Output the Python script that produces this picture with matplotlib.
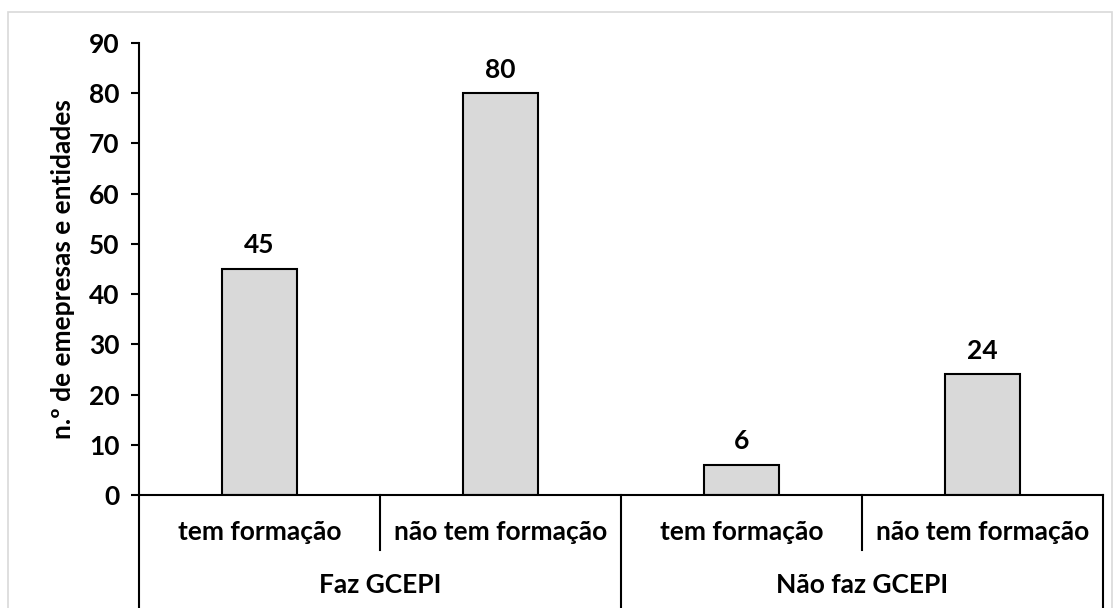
import numpy as np
import matplotlib.pyplot as plt
from matplotlib.patches import Rectangle
from matplotlib.lines import Line2D

# dados do gráfico
subcategorias = ['tem formação', 'não tem formação', 'tem formação', 'não tem formação']
grupos = ['Faz GCEPI', 'Não faz GCEPI']
valores = [45, 80, 6, 24]
yticks = [0, 10, 20, 30, 40, 50, 60, 70, 80, 90]

plt.rcParams['font.family'] = ['Lato', 'DejaVu Sans']
plt.rcParams['font.weight'] = 'bold'
FS = 19

W, H = 1120, 608
fig = plt.figure(figsize=(W / 100, H / 100), dpi=100)

# moldura cinzenta do gráfico
fig.patches.append(Rectangle((8 / W, -0.05), (1112 - 8) / W, 1.05 - 12 / H,
                             transform=fig.transFigure, fill=False,
                             edgecolor='#d9d9d9', linewidth=1.2))

x0, x1, y0, y1 = 139, 1103, 495, 43
ax = fig.add_axes([x0 / W, (H - y0) / H, (x1 - x0) / W, (y0 - y1) / H])

x = np.arange(len(valores))
bars = ax.bar(x, valores, width=0.31, color='#d9d9d9', edgecolor='black', linewidth=1.5)
for xi, v in zip(x, valores):
    ax.text(xi, v + 2.3, str(v), ha='center', va='bottom', fontsize=FS, fontweight='bold')

ax.set_xlim(-0.5, len(valores) - 0.5)
ax.set_ylim(0, 90)
ax.set_yticks(yticks)
ax.tick_params(axis='y', labelsize=FS, length=6, width=1.5, pad=8)
ax.set_xticks([])
ax.spines['top'].set_visible(False)
ax.spines['right'].set_visible(False)
ax.spines['left'].set_linewidth(1.5)
ax.spines['bottom'].set_linewidth(1.5)
ax.set_ylabel('n.º de emepresas e entidades', fontsize=FS, fontweight='bold', labelpad=10)

# eixo de categorias em dois níveis
tr = ax.get_xaxis_transform()
y_inner = -(550 - y0) / (y0 - y1)
y_bottom = -(H + 5 - y0) / (y0 - y1)
for xd in [-0.5, 1.5, 3.5]:
    ax.add_line(Line2D([xd, xd], [0, y_bottom], transform=tr, color='black', lw=1.5, clip_on=False))
for xd in [0.5, 2.5]:
    ax.add_line(Line2D([xd, xd], [0, y_inner], transform=tr, color='black', lw=1.5, clip_on=False))

y_row1 = -(532 - y0) / (y0 - y1)
y_row2 = -(585 - y0) / (y0 - y1)
for xi, lab in zip(x, subcategorias):
    ax.text(xi, y_row1, lab, transform=tr, ha='center', va='center', fontsize=FS, fontweight='bold')
for gi, lab in enumerate(grupos):
    ax.text(gi * 2 + 0.5, y_row2, lab, transform=tr, ha='center', va='center', fontsize=FS, fontweight='bold')

fig.savefig('out.png', dpi=100)
